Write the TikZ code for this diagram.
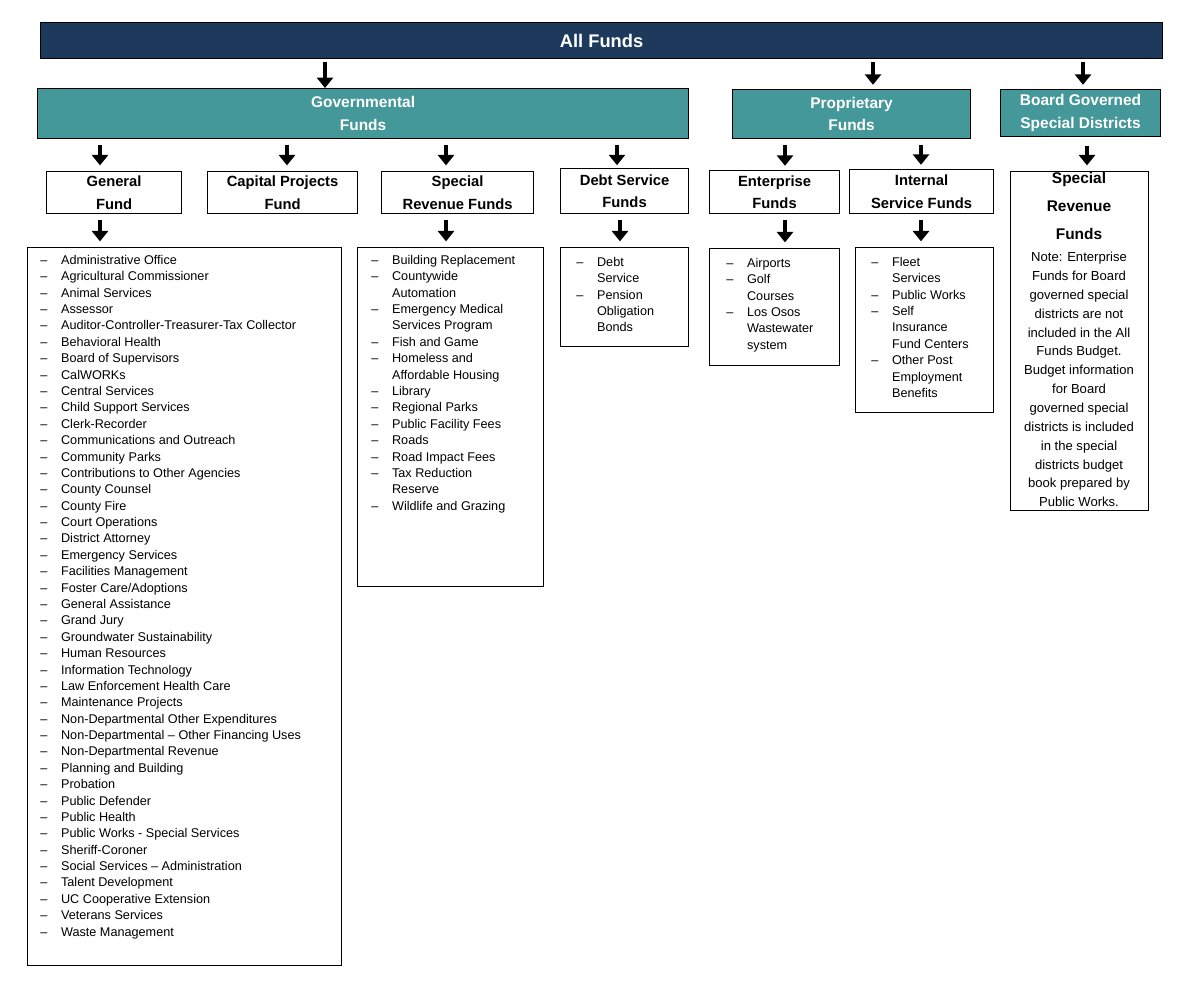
\documentclass[tikz,border=0pt]{standalone}
\usepackage{fontspec}
\setmainfont{Liberation Sans}
\usetikzlibrary{arrows.meta}
\definecolor{navy}{HTML}{1D3A5C}
\definecolor{teal}{HTML}{45989A}
\newcommand\litem[1]{\makebox[0.52cm][l]{--}#1}
\newcommand\lcont[1]{\hspace*{0.52cm}#1}

\begin{document}
\begin{tikzpicture}[x=0.025cm, y=-0.025cm,
    top/.style={rectangle, draw=black, thick, fill=navy, text=white, font=\bfseries\fontsize{13}{15}\selectfont, anchor=north west, inner sep=0pt},
    group/.style={rectangle, draw=black, thick, fill=teal, text=white, font=\bfseries\fontsize{11}{16}\selectfont, align=center, anchor=north west, inner sep=0pt},
    fund/.style={rectangle, draw=black, thick, fill=white, font=\bfseries\fontsize{10.5}{16}\selectfont, align=center, anchor=north west, inner sep=0pt},
    listbox/.style={rectangle, draw=black, thick, anchor=north west, inner sep=0pt},
    listtext/.style={anchor=north west, align=left, inner sep=0pt, font=\fontsize{9}{11.65}\selectfont},
    arrow/.style={-{Triangle[length=0.26cm, width=0.4cm]}, line width=0.12cm}
]
\useasboundingbox (0,0) rectangle (1200,988);

% Top level
\node[top, minimum width=1122*0.025cm, minimum height=36*0.025cm] at (40,22) (allf) {All Funds};

% Groups
\node[group, minimum width=651*0.025cm, minimum height=50*0.025cm] at (37,88) (gov) {Governmental\\Funds};
\node[group, minimum width=238*0.025cm, minimum height=49*0.025cm] at (732,89) (prop) {Proprietary\\Funds};
\node[group, minimum width=160*0.025cm, minimum height=47*0.025cm] at (1000,89) (board) {Board Governed\\Special Districts};

% Funds
\node[fund, minimum width=135*0.025cm, minimum height=42*0.025cm] at (46,171) (gen) {General\\Fund};
\node[fund, minimum width=150*0.025cm, minimum height=42*0.025cm] at (207,171) (cap) {Capital Projects\\Fund};
\node[fund, minimum width=152*0.025cm, minimum height=42*0.025cm] at (381,171) (spec) {Special\\Revenue Funds};
\node[fund, minimum width=128*0.025cm, minimum height=45*0.025cm] at (560,168) (debt) {Debt Service\\Funds};
\node[fund, minimum width=130*0.025cm, minimum height=43*0.025cm] at (709,170) (ent) {Enterprise\\Funds};
\node[fund, minimum width=144*0.025cm, minimum height=44*0.025cm] at (849,169) (isf) {Internal\\Service Funds};
\node[listbox, minimum width=138*0.025cm, minimum height=339*0.025cm] at (1010,171) (bsrf) {};
\node[anchor=north, align=center, inner sep=0pt, font=\bfseries\fontsize{11}{20}\selectfont] at (1079,172) (bsrftitle) {Special\\Revenue\\Funds};
\node[anchor=north, align=center, inner sep=0pt, font=\fontsize{9.3}{13.4}\selectfont] at (1079,252) (bnote) {Note: Enterprise\\Funds for Board\\governed  special\\districts are not\\included in the All\\Funds Budget.\\Budget information\\for Board\\governed  special\\districts is included\\in the special\\districts budget\\book prepared by\\Public Works.};

% Lists
\node[listbox, minimum width=314*0.025cm, minimum height=718*0.025cm] at (27,247) (genlist) {};
\node[listtext] at (40,255) (gentext) {\litem{Administrative Office}\\\litem{Agricultural Commissioner}\\\litem{Animal Services}\\\litem{Assessor}\\\litem{Auditor-Controller-Treasurer-Tax Collector}\\\litem{Behavioral Health}\\\litem{Board of Supervisors}\\\litem{CalWORKs}\\\litem{Central Services}\\\litem{Child Support Services}\\\litem{Clerk-Recorder}\\\litem{Communications and Outreach}\\\litem{Community Parks}\\\litem{Contributions to Other Agencies}\\\litem{County Counsel}\\\litem{County Fire}\\\litem{Court Operations}\\\litem{District Attorney}\\\litem{Emergency Services}\\\litem{Facilities Management}\\\litem{Foster Care/Adoptions}\\\litem{General Assistance}\\\litem{Grand Jury}\\\litem{Groundwater Sustainability}\\\litem{Human Resources}\\\litem{Information Technology}\\\litem{Law Enforcement Health Care}\\\litem{Maintenance Projects}\\\litem{Non-Departmental Other Expenditures}\\\litem{Non-Departmental -- Other Financing Uses}\\\litem{Non-Departmental Revenue}\\\litem{Planning and Building}\\\litem{Probation}\\\litem{Public Defender}\\\litem{Public Health}\\\litem{Public Works - Special Services}\\\litem{Sheriff-Coroner}\\\litem{Social Services -- Administration}\\\litem{Talent Development}\\\litem{UC Cooperative Extension}\\\litem{Veterans Services}\\\litem{Waste Management}};

\node[listbox, minimum width=186*0.025cm, minimum height=339*0.025cm] at (357,247) (speclist) {};
\node[listtext] at (371,255) (spectext) {\litem{Building Replacement}\\\litem{Countywide}\\\lcont{Automation}\\\litem{Emergency Medical}\\\lcont{Services Program}\\\litem{Fish and Game}\\\litem{Homeless and}\\\lcont{Affordable Housing}\\\litem{Library}\\\litem{Regional Parks}\\\litem{Public Facility Fees}\\\litem{Roads}\\\litem{Road Impact Fees}\\\litem{Tax Reduction}\\\lcont{Reserve}\\\litem{Wildlife and Grazing}};

\node[listbox, minimum width=128*0.025cm, minimum height=99*0.025cm] at (560,247) (debtlist) {};
\node[listtext] at (576,257) (debttext) {\litem{Debt}\\\lcont{Service}\\\litem{Pension}\\\lcont{Obligation}\\\lcont{Bonds}};

\node[listbox, minimum width=130*0.025cm, minimum height=117*0.025cm] at (709,248) (entlist) {};
\node[listtext] at (726,258) (enttext) {\litem{Airports}\\\litem{Golf}\\\lcont{Courses}\\\litem{Los Osos}\\\lcont{Wastewater}\\\lcont{system}};

\node[listbox, minimum width=138*0.025cm, minimum height=165*0.025cm] at (855,247) (isflist) {};
\node[listtext] at (871,257) (isftext) {\litem{Fleet}\\\lcont{Services}\\\litem{Public Works}\\\litem{Self}\\\lcont{Insurance}\\\lcont{Fund Centers}\\\litem{Other Post}\\\lcont{Employment}\\\lcont{Benefits}};

% Arrows
\draw[arrow, shorten <=2] (allf.south -| 325,0) -- (325,0 |- gov.north) ;
\draw[arrow, shorten <=2, shorten >=3] (allf.south -| 873,0) -- (873,0 |- prop.north);
\draw[arrow, shorten <=2, shorten >=3] (allf.south -| 1083,0) -- (1083,0 |- board.north);
\draw[arrow, shorten <=4, shorten >=4] (gov.south -| 100,0) -- (100,0 |- gen.north);
\draw[arrow, shorten <=4, shorten >=4] (gov.south -| 287,0) -- (287,0 |- cap.north);
\draw[arrow, shorten <=4, shorten >=4] (gov.south -| 446,0) -- (446,0 |- spec.north);
\draw[arrow, shorten <=4, shorten >=2] (gov.south -| 617,0) -- (617,0 |- debt.north);
\draw[arrow, shorten <=4, shorten >=3] (prop.south -| 785,0) -- (785,0 |- ent.north);
\draw[arrow, shorten <=4, shorten >=3] (prop.south -| 921,0) -- (921,0 |- isf.north);
\draw[arrow, shorten <=6, shorten >=4] (board.south -| 1087,0) -- (1087,0 |- bsrf.north);
\draw[arrow, shorten <=4, shorten >=4] (gen.south -| 100,0) -- (100,0 |- genlist.north);
\draw[arrow, shorten <=4, shorten >=4] (spec.south -| 446,0) -- (446,0 |- speclist.north);
\draw[arrow, shorten <=4, shorten >=4] (debt.south -| 620,0) -- (620,0 |- debtlist.north);
\draw[arrow, shorten <=4, shorten >=4] (ent.south -| 785,0) -- (785,0 |- entlist.north);
\draw[arrow, shorten <=4, shorten >=4] (isf.south -| 921,0) -- (921,0 |- isflist.north);

\end{tikzpicture}
\end{document}
